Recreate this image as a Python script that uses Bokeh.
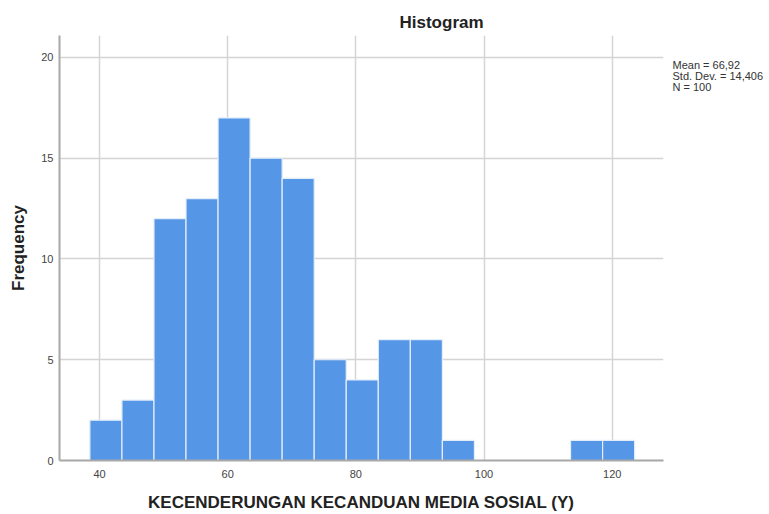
from bokeh.plotting import figure
from bokeh.models import FixedTicker, Range1d, ColumnDataSource, LinearAxis
from bokeh.embed import file_html
from bokeh.resources import INLINE

# ---- data ----
bin_edges = [38.5, 43.5, 48.5, 53.5, 58.5, 63.5, 68.5, 73.5, 78.5, 83.5,
             88.5, 93.5, 98.5, 103.5, 108.5, 113.5, 118.5, 123.5]
counts = [2, 3, 12, 13, 17, 15, 14, 5, 4, 6, 6, 1, 0, 0, 0, 1, 1]
x_ticks = [40, 60, 80, 100, 120]
y_ticks = [0, 5, 10, 15, 20]
title_text = "Histogram"
x_label = "KECENDERUNGAN KECANDUAN MEDIA SOSIAL (Y)"
y_label = "Frequency"
stats_lines = ["Mean = 66,92", "Std. Dev. = 14,406", "N = 100"]

# ---- build ----
left = [bin_edges[i] for i in range(len(counts)) if counts[i] > 0]
right = [bin_edges[i + 1] for i in range(len(counts)) if counts[i] > 0]
top = [c for c in counts if c > 0]
src = ColumnDataSource(dict(left=left, right=right, top=top, bottom=[0] * len(top)))

p = figure(width=769, height=514, output_backend="svg", toolbar_location=None,
           x_range=Range1d(33.76, 128.0), y_range=Range1d(0, 21.09),
           min_border_left=59, min_border_right=106, min_border_top=35, min_border_bottom=53,
           title=title_text, x_axis_label=x_label, y_axis_label=y_label)
p.outline_line_color = None
p.background_fill_color = "white"

p.title.align = "left"
p.title.offset = 340
p.title.standoff = 8
p.title.text_font = "Liberation Sans"
p.title.text_font_size = "17px"
p.title.text_font_style = "bold"
p.title.text_color = "#222222"

p.quad(left="left", right="right", top="top", bottom="bottom", source=src,
       fill_color="#5596e6", line_color="#e4eefb", line_width=1.2)

for ax in (p.xaxis[0], p.yaxis[0]):
    ax.axis_line_color = "#a8a8a8"
    ax.axis_line_width = 2
    ax.major_tick_line_color = None
    ax.minor_tick_line_color = None
    ax.major_tick_out = 0
    ax.major_tick_in = 0
    ax.minor_tick_out = 0
    ax.major_label_text_font = "Liberation Sans"
    ax.major_label_text_font_size = "11px"
    ax.major_label_text_color = "#444444"
    ax.axis_label_text_font = "Liberation Sans"
    ax.axis_label_text_font_size = "17px"
    ax.axis_label_text_font_style = "bold"
    ax.axis_label_text_color = "#222222"
p.xaxis[0].major_label_standoff = 9
p.yaxis[0].major_label_standoff = 6
p.xaxis[0].axis_label_standoff = 12
p.yaxis[0].axis_label_standoff = 10
p.xaxis[0].ticker = FixedTicker(ticks=x_ticks)
p.yaxis[0].ticker = FixedTicker(ticks=y_ticks)

p.xgrid[0].ticker = FixedTicker(ticks=x_ticks)
p.ygrid[0].ticker = FixedTicker(ticks=y_ticks)
for g in (p.xgrid[0], p.ygrid[0]):
    g.grid_line_color = "#d4d4d4"
    g.grid_line_width = 1.5

# statistics text: an unlined axis on the right whose labels are the statistics
stat_pos = [19.65, 19.09, 18.53]
stat_axis = LinearAxis(ticker=FixedTicker(ticks=stat_pos),
                       major_label_overrides={t: s for t, s in zip(stat_pos, stats_lines)},
                       axis_line_color=None, major_tick_line_color=None,
                       minor_tick_line_color=None, major_tick_out=0, major_tick_in=0,
                       minor_tick_out=0, major_label_standoff=9,
                       major_label_text_font="Liberation Sans",
                       major_label_text_font_size="11px",
                       major_label_text_color="#333333")
p.add_layout(stat_axis, "right")

open("out.html", "w").write(file_html(p, INLINE))
